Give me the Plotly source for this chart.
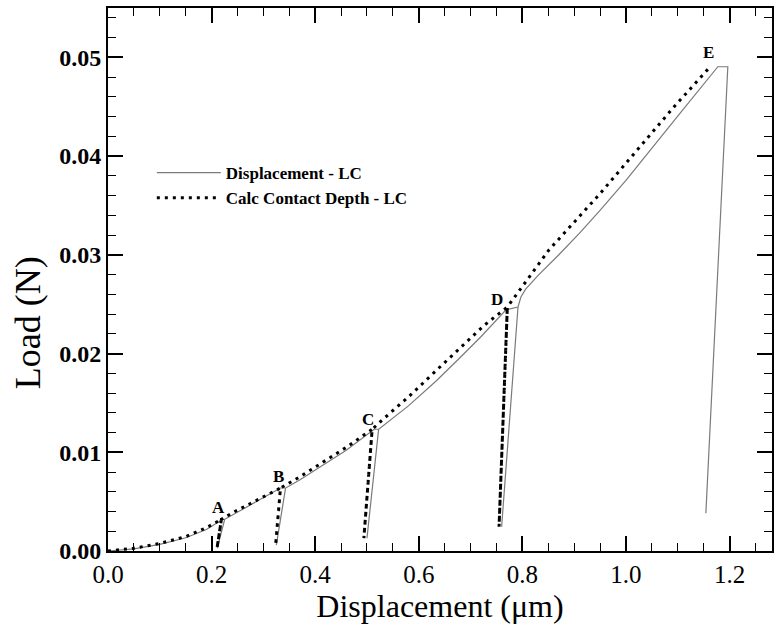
import plotly.graph_objects as go

# Displacement - LC (solid grey): loading / hold / unload-reload cycles A..E
disp_x = [0.0, 0.05, 0.10, 0.15, 0.19, 0.2215, 0.2253, 0.211, 0.2253,
          0.267, 0.299, 0.333, 0.3428, 0.325, 0.3428,
          0.370, 0.41, 0.46, 0.514, 0.5225, 0.500, 0.5225,
          0.58, 0.633, 0.678, 0.72, 0.768, 0.7916, 0.760, 0.7916,
          0.797, 0.806, 0.83, 0.87, 0.91, 0.95, 1.0, 1.05, 1.10, 1.1774, 1.1967, 1.1543]
disp_y = [0.0, 0.00022, 0.00068, 0.00134, 0.00218, 0.00321, 0.00321, 0.0003, 0.00321,
          0.00443, 0.00534, 0.00638, 0.00638, 0.0006, 0.00638,
          0.00719, 0.0085, 0.0102, 0.01233, 0.01233, 0.0013, 0.01233,
          0.0147, 0.0172, 0.0195, 0.0217, 0.02441, 0.02471, 0.00246, 0.02471,
          0.0257, 0.0265, 0.0279, 0.02998, 0.03218, 0.0345, 0.03755, 0.04075, 0.04405,
          0.04905, 0.04905, 0.00382]

# Calc Contact Depth - LC (dotted black)
depth_x = [0.0, 0.05, 0.10, 0.15, 0.19, 0.219, 0.2105, 0.219,
           0.245, 0.27, 0.30, 0.333, 0.3236, 0.333,
           0.370, 0.41, 0.46, 0.510, 0.494, 0.510,
           0.53, 0.58, 0.63, 0.678, 0.725, 0.771, 0.755, 0.771,
           0.8513, 0.95, 1.092, 1.1627]
depth_y = [0.0, 0.00028, 0.00076, 0.00146, 0.00236, 0.00321, 0.0003, 0.00321,
           0.0040, 0.00468, 0.00548, 0.00638, 0.0006, 0.00638,
           0.0075, 0.0088, 0.0105, 0.01233, 0.0013, 0.01233,
           0.0133, 0.0156, 0.0181, 0.0205, 0.0228, 0.02471, 0.00246, 0.02471,
           0.03049, 0.0362, 0.04494, 0.04905]

# Cycle labels
label_text = ["A", "B", "C", "D", "E"]
label_x = [0.2124, 0.330, 0.5013, 0.7517, 1.1595]
label_y = [0.00443, 0.00753, 0.01327, 0.02549, 0.0505]

x_ticks = [0.0, 0.2, 0.4, 0.6, 0.8, 1.0, 1.2]
y_ticks = [0.00, 0.01, 0.02, 0.03, 0.04, 0.05]

SERIF = "Liberation Serif, Times New Roman, serif"

fig = go.Figure()
fig.add_trace(go.Scatter(x=disp_x, y=disp_y, mode="lines",
                         name="Displacement - LC",
                         line=dict(color="#7a7a7a", width=1.2)))
fig.add_trace(go.Scatter(x=depth_x, y=depth_y, mode="lines",
                         name="Calc Contact Depth - LC",
                         line=dict(color="black", width=3, dash="3px,5px")))

for t, x, y in zip(label_text, label_x, label_y):
    fig.add_annotation(x=x, y=y, text=t, showarrow=False,
                       font=dict(family=SERIF, size=17, color="black", weight="bold"))

# y-axis title (placed slightly below the axis centre, as in the reference)
fig.add_annotation(xref="paper", yref="paper", x=-0.12, y=0.42,
                   xanchor="center", yanchor="middle",
                   text="Load (N)", textangle=-90, showarrow=False,
                   font=dict(family=SERIF, size=36, color="black"))

axis_common = dict(
    showline=True, linewidth=2, linecolor="black", mirror="allticks",
    ticks="inside", ticklen=15, tickwidth=1.5, tickcolor="black",
    showgrid=False, zeroline=False,
)

fig.update_xaxes(range=[0, 1.282], tickvals=x_ticks, tickformat=".1f",
                 tickfont=dict(family=SERIF, size=25, color="black"),
                 minor=dict(dtick=0.05, ticks="inside", ticklen=8, tickwidth=1, tickcolor="black"),
                 title=dict(text="Displacement (μm)", font=dict(family=SERIF, size=32, color="black"), standoff=3),
                 **axis_common)
fig.update_yaxes(range=[0, 0.055], tickvals=y_ticks, tickformat=".2f",
                 tickfont=dict(family=SERIF, size=24, color="black", weight="bold"),
                 minor=dict(dtick=0.002, ticks="inside", ticklen=8, tickwidth=1, tickcolor="black"),
                 **axis_common)

fig.update_layout(
    width=776, height=624,
    margin=dict(l=108, r=2, t=8, b=73),
    paper_bgcolor="white", plot_bgcolor="white",
    showlegend=True,
    legend=dict(x=0.066, y=0.729, xanchor="left", yanchor="top",
                bgcolor="rgba(0,0,0,0)", itemwidth=64, tracegroupgap=0,
                font=dict(family=SERIF, size=17, color="black", weight="bold")),
)

fig.write_html("out.html")
